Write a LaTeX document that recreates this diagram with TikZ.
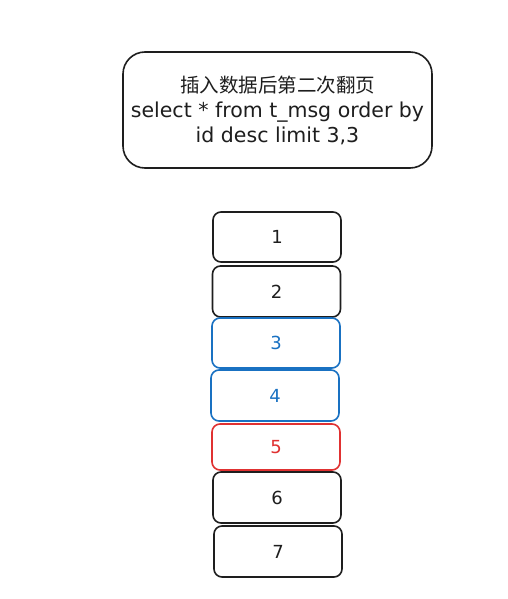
\documentclass[tikz,border=0pt]{standalone}
\usepackage{fontspec}
\setmainfont{DejaVu Sans}
\newfontfamily\cjk{Noto Sans CJK SC}
\definecolor{exblue}{HTML}{1971C2}
\definecolor{exred}{HTML}{E03131}
\definecolor{exblack}{HTML}{1E1E1E}
\begin{document}
\begin{tikzpicture}[x=1pt,y=-1pt,
  cell/.style={draw=exblack,line width=1.6pt,rounded corners=8pt,minimum width=128pt,minimum height=50pt,inner sep=0pt,text=exblack,font=\fontsize{18}{18}\selectfont},
  bluecell/.style={cell,draw=exblue,text=exblue},
  redcell/.style={cell,draw=exred,text=exred},
  title/.style={draw=exblack,line width=1.6pt,rounded corners=22pt,minimum width=309pt,minimum height=116pt,inner sep=0pt,text=exblack,align=center,font=\fontsize{20.5}{25}\selectfont}
]
\useasboundingbox[fill=white] (0,0) rectangle (508,599);
\node[title] (t) at (277.5,110) {{\cjk\fontsize{19.5}{25}\selectfont 插入数据后第二次翻页}\\
select * from t\_msg order by\\
id desc limit 3,3};
\node[cell] (n1) at (277,237) {1};
\node[cell,minimum height=51pt] (n2) at (276.5,291.5) {2};
\node[bluecell] (n3) at (276,343) {3};
\node[bluecell,minimum height=51pt] (n4) at (275,395.5) {4};
\node[redcell,minimum height=46pt] (n5) at (276,447) {5};
\node[cell,minimum height=51pt] (n6) at (277,497.5) {6};
\node[cell,minimum height=51pt] (n7) at (278,551.5) {7};
\end{tikzpicture}
\end{document}
